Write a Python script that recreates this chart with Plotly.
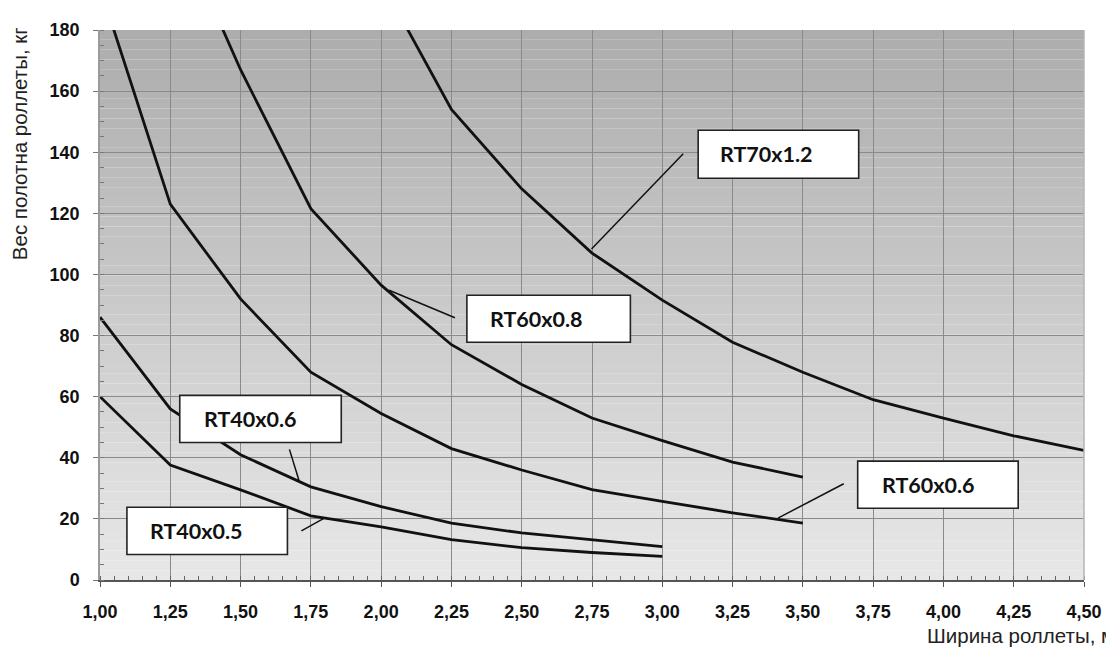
import plotly.graph_objects as go

# --- Data ---
widths = [1.00, 1.25, 1.50, 1.75, 2.00, 2.25, 2.50, 2.75, 3.00, 3.25, 3.50, 3.75, 4.00, 4.25, 4.50]

rt40x05_x = widths[0:9]
rt40x05_y = [60, 37.6, 29.5, 21, 17.4, 13.2, 10.6, 9.0, 7.7]

rt40x06_x = widths[0:9]
rt40x06_y = [86, 56, 41, 30.5, 24, 18.6, 15.4, 13.2, 10.9]

rt60x06_x = widths[0:11]
rt60x06_y = [194, 123, 92, 68, 54.5, 43, 36, 29.6, 25.7, 22, 18.6]

rt60x08_x = widths[1:11]
rt60x08_y = [219, 167, 121.5, 96.5, 77, 64, 53, 45.6, 38.6, 33.7]

rt70x12_x = widths[4:15]
rt70x12_y = [196, 154, 128, 107, 91.6, 77.8, 68, 59, 53, 47.2, 42.4]

series_names = ['RT40x0.5', 'RT40x0.6', 'RT60x0.6', 'RT60x0.8', 'RT70x1.2']
series_x = [rt40x05_x, rt40x06_x, rt60x06_x, rt60x08_x, rt70x12_x]
series_y = [rt40x05_y, rt40x06_y, rt60x06_y, rt60x08_y, rt70x12_y]

# --- Layout geometry ---
# the page body has an 8px margin, so the figure sits at (8, 8) in the window
OFF = 8
W, H = 1114 - OFF, 656 - OFF
L, T = 92, 12
PW, PH = 987, 560
R, B = W - L - PW, H - T - PH


def px(xp):
    # window pixel -> paper x
    return (xp - OFF - L) / PW


def py(yp):
    # window pixel -> paper y
    return (OFF + T + PH - yp) / PH


# label boxes: name, left, top, right, bottom, text x, pointer line (x0, y0, x1, y1)
labels = [
    ('RT70x1.2', 700, 122, 861, 171, 720, (685, 146, 593, 243)),
    ('RT60x0.8', 468, 290, 632, 338, 489, (456, 313, 390, 285)),
    ('RT40x0.6', 180, 392, 342, 440, 202, (290, 447, 300, 480)),
    ('RT40x0.5', 127, 506, 288, 554, 148, (302, 530, 325, 517)),
    ('RT60x0.6', 860, 459, 1021, 507, 882, (846, 482, 780, 517)),
]

fig = go.Figure()

for name, xs, ys in zip(series_names, series_x, series_y):
    fig.add_trace(go.Scatter(
        x=xs, y=ys, mode='lines', name=name,
        line=dict(color='#111111', width=2.8),
        showlegend=False, hoverinfo='x+y+name'
    ))

shapes = []

# grey vertical gradient behind the plot area
n_bands = 56
top_c, bot_c = 172, 232
for i in range(n_bands):
    c = round(top_c + (bot_c - top_c) * (i + 0.5) / n_bands)
    shapes.append(dict(
        type='rect', xref='x domain', yref='y domain',
        x0=0, x1=1, y0=1 - (i + 1) / n_bands, y1=1 - i / n_bands,
        fillcolor=f'rgb({c},{c},{c})', line=dict(width=0), layer='below'
    ))

annotations = []
for name, x0, y0, x1, y1, tx, ptr in labels:
    shapes.append(dict(
        type='rect', xref='paper', yref='paper',
        x0=px(x0), x1=px(x1), y0=py(y1), y1=py(y0),
        fillcolor='white', line=dict(color='#222222', width=1.6), layer='above'
    ))
    shapes.append(dict(
        type='line', xref='paper', yref='paper',
        x0=px(ptr[0]), y0=py(ptr[1]), x1=px(ptr[2]), y1=py(ptr[3]),
        line=dict(color='#111111', width=1.5), layer='above'
    ))
    annotations.append(dict(
        text=name, xref='paper', yref='paper',
        x=px(tx), y=py((y0 + y1) / 2), xanchor='left', yanchor='middle',
        showarrow=False, font=dict(family='Lato', size=21.5, color='#111111', weight='bold')
    ))

# axis titles
annotations.append(dict(
    text='Вес полотна роллеты, кг', xref='paper', yref='paper',
    x=px(20), y=py(136), textangle=-90, showarrow=False,
    xanchor='center', yanchor='middle',
    font=dict(family='Liberation Sans', size=20.5, color='#222222')
))
annotations.append(dict(
    text='Ширина роллеты, м', xref='paper', yref='paper',
    x=px(928), y=py(636), showarrow=False,
    xanchor='left', yanchor='middle',
    font=dict(family='Liberation Sans', size=20.5, color='#222222')
))

fig.update_layout(
    width=W, height=H,
    margin=dict(l=L, r=R, t=T, b=B),
    paper_bgcolor='white',
    plot_bgcolor='rgba(0,0,0,0)',
    separators=', ',
    shapes=shapes,
    annotations=annotations,
    showlegend=False,
)

fig.update_xaxes(
    range=[1, 4.5], dtick=0.25, tick0=1, tickformat='.2f',
    showgrid=True, gridcolor='#8a8a8a', gridwidth=1,
    showline=True, linecolor='#555555', linewidth=1.5, mirror=False,
    ticks='outside', ticklen=5, tickcolor='#555555',
    minor=dict(dtick=0.05, ticks='inside', ticklen=4, tickcolor='#666666', showgrid=False),
    tickfont=dict(family='Liberation Sans', size=18, color='#111111', weight='bold'),
    ticklabelstandoff=10, zeroline=False
)
fig.update_yaxes(
    range=[0, 180], dtick=20, tick0=0,
    showgrid=True, gridcolor='#8a8a8a', gridwidth=1,
    showline=True, linecolor='#9a9a9a', linewidth=1.5, mirror=False,
    ticks='outside', ticklen=5, tickcolor='#777777',
    minor=dict(dtick=5, ticks='inside', ticklen=4, tickcolor='#777777', showgrid=False),
    tickfont=dict(family='Liberation Sans', size=18, color='#111111', weight='bold'),
    ticklabelstandoff=10, zeroline=False
)

# thin light border on the right side of the plot area
fig.add_shape(type='line', xref='x domain', yref='y domain', x0=1, x1=1, y0=0, y1=1,
              line=dict(color='#b5b5b5', width=1.5))

fig.write_html('out.html')
